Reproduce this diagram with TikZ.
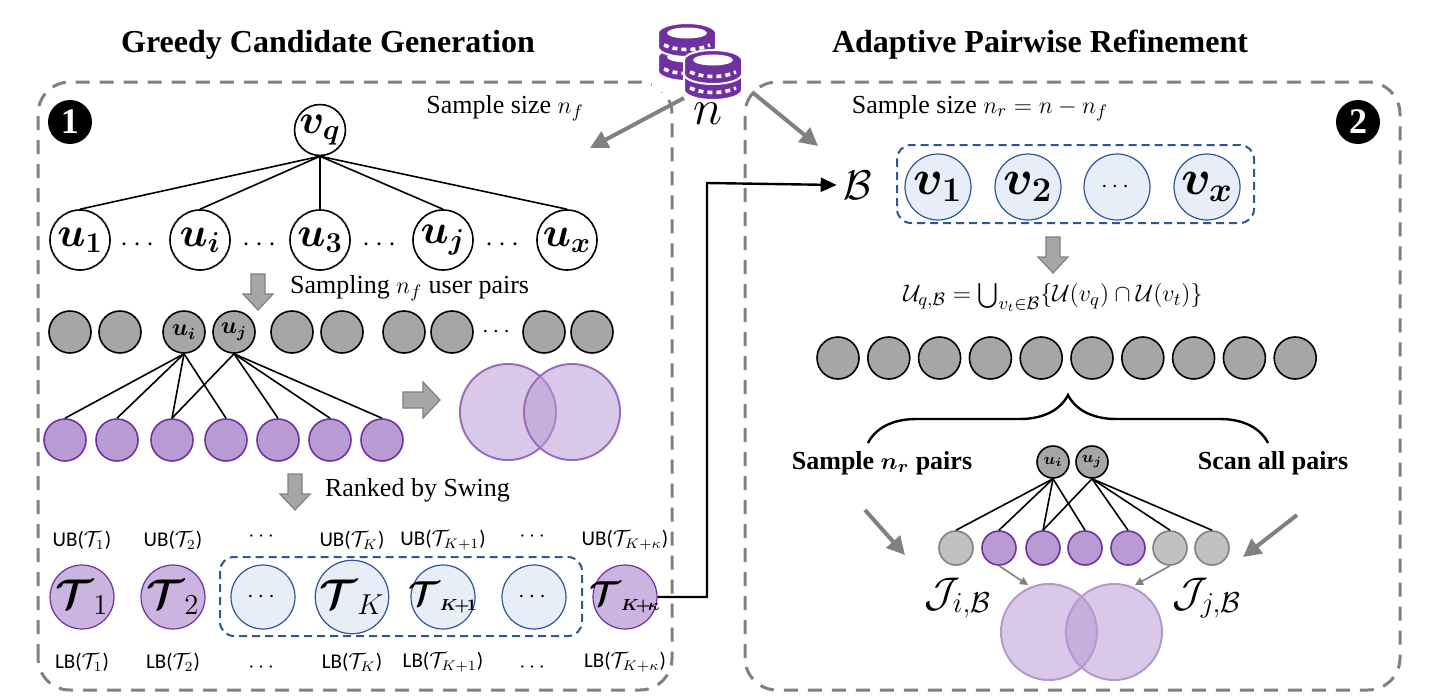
\documentclass[tikz,border=0pt]{standalone}
\usepackage{amsmath,amssymb,bm}
\usepackage{fontspec}
\setmainfont{Liberation Serif}
\newfontfamily\calfont{Carlito}
\usetikzlibrary{arrows.meta,decorations.pathreplacing}
\definecolor{purpD}{RGB}{112,48,160}
\definecolor{purpL}{RGB}{185,155,212}
\definecolor{blueD}{RGB}{47,85,151}
\definecolor{blueL}{RGB}{232,238,248}
\definecolor{grayN}{RGB}{166,166,166}
\definecolor{grayA}{RGB}{128,128,128}
\tikzset{
  box/.style={draw=grayA,line width=1.5pt,dash pattern=on 7pt off 5pt,rounded corners=16pt},
  sel/.style={draw=blueD,line width=1pt,dash pattern=on 4pt off 2.5pt,rounded corners=7pt},
  wnode/.style={circle,draw,line width=0.8pt,fill=white,minimum size=30pt,inner sep=0pt,font=\fontsize{22}{22}\selectfont},
  gnode/.style={circle,draw,line width=0.8pt,fill=grayN,minimum size=21pt,inner sep=0pt,font=\fontsize{12}{12}\selectfont},
  pnode/.style={circle,draw=purpD,line width=0.8pt,fill=purpL,minimum size=21pt,inner sep=0pt},
  tnode/.style={circle,draw=purpD,line width=0.6pt,fill=purpL!75,minimum size=32pt,inner sep=0pt,font=\fontsize{20}{20}\selectfont},
  bnode/.style={circle,draw=blueD,line width=0.6pt,fill=blueL,minimum size=32pt,inner sep=0pt,font=\fontsize{20}{20}\selectfont},
  venn/.style={draw=purpD!70,line width=1pt,fill=purpL,fill opacity=0.55},
  garrow/.style={draw=grayA,line width=2pt,-{Triangle[length=9pt,width=9pt]}},
  blk/.style={fill=grayN,draw=grayA,line width=0.6pt},
  badge/.style={circle,fill=black,text=white,minimum size=22pt,inner sep=0pt,font=\fontsize{18}{18}\bfseries\selectfont},
  lbl/.style={font=\fontsize{13}{15}\selectfont},
  bnd/.style={font=\calfont\fontsize{10.5}{12}\selectfont},
  pics/blkdown/.style={code={\draw[blk] (-7,-18) -- (7,-18) -- (7,2) -- (15,2) -- (0,18) -- (-15,2) -- (-7,2) -- cycle;}},
  pics/coin/.style={code={
    \fill[purpD,draw=white,line width=1pt] (-29,0) -- (-29,14) arc[start angle=180,end angle=360,x radius=29,y radius=-10] -- (29,0) arc[start angle=0,end angle=180,x radius=29,y radius=-10] -- cycle;
    \fill[white] (0,0) ellipse (20 and 5.5);
    \draw[white,line width=1.8pt,dash pattern=on 2.5pt off 2pt] (-23,12) .. controls (-10,18) and (10,18) .. (23,12);}}
}
\begin{document}
\begin{tikzpicture}[x=0.5pt,y=-0.5pt]
\path[use as bounding box] (0,0) rectangle (1440,696);

% Boxes
\draw[box] (38,690) -- (38,82) -- (672,82) -- (672,690) -- cycle;
\draw[box] (745,690) -- (745,82) -- (1400,82) -- (1400,690) -- cycle;

% Titles
\node[font=\fontsize{16}{18}\bfseries\selectfont] (title1) at (328,45) {Greedy Candidate Generation};
\node[font=\fontsize{16}{18}\bfseries\selectfont] (title2) at (1040,45) {Adaptive Pairwise Refinement};

% Coins
\fill[white] (652,20) rectangle (748,92);
\pic at (687,57) {coin};
\pic at (687,33) {coin};
\pic at (713,76) {coin};
\pic at (713,60) {coin};
\node[font=\fontsize{26}{26}\selectfont] (n) at (708,114) {$n$};

\node[badge] (one) at (70,122) {1};
\node[badge] (two) at (1358,122) {2};

% Sample sizes
\node[lbl] (nf) at (505,108) {Sample size $n_f$};
\node[lbl] (nr) at (980,108) {Sample size $n_r = n - n_f$};
\coordinate (cL) at (684,98);
\coordinate (cR) at (752,92);
\draw[garrow] (cL) -- (590,148);
\draw[garrow] (cR) -- (818,146);

% Item and users
\node[wnode,minimum size=25pt] (vq) at (320,130) {$\bm{v_q}$};
\foreach \x/\t/\nm in {80/u_1/u1,200/u_i/ui,320/u_3/u3,443/u_j/uj,567/u_x/ux}{
  \node[wnode] (\nm) at (\x,240) {$\bm{\t}$};
  \draw[line width=0.8pt] (vq.south) -- (\nm.north);
}
\foreach \x in {140,262,382,505}
  \node[font=\fontsize{14}{14}\selectfont] at (\x,245) {$\cdots$};

\pic at (258,292) {blkdown};
\node[lbl,anchor=west] (samp) at (283,288) {Sampling $n_f$ user pairs};

% Sampled users
\foreach \x/\nm in {70/g1,120/g2,292/g5,342/g6,404/g7,452/g8,544/g9,592/g10}
  \node[gnode] (\nm) at (\x,332) {};
\node[gnode] (gi) at (184,332) {$\bm{u_i}$};
\node[gnode] (gj) at (234,332) {$\bm{u_j}$};
\node[font=\fontsize{12}{12}\selectfont] at (498,332) {$\cdots$};

\foreach \x [count=\k] in {65,117,172,226,278,330,382}
  \node[pnode] (p\k) at (\x,440) {};
\foreach \k in {1,2,3,4} \draw[line width=0.8pt] (gi.south) -- (p\k.north);
\foreach \k in {3,5,6,7} \draw[line width=0.8pt] (gj.south) -- (p\k.north);

\draw[blk] (403,392) -- (423,392) -- (423,382) -- (440,400) -- (423,418) -- (423,408) -- (403,408) -- cycle;
\draw[venn] (508,412) circle (48);
\draw[venn] (572,412) circle (48);

\pic at (295,492) {blkdown};
\node[lbl,anchor=west] (rank) at (318,490) {Ranked by Swing};

% Ranked candidates
\draw[sel] (220,557) rectangle (582,636);
\node[tnode] (t1) at (82,597) {$\bm{\mathcal{T}}_1$};
\node[tnode] (t2) at (173,597) {$\bm{\mathcal{T}}_2$};
\node[bnode] (td1) at (263,597) {\fontsize{12}{12}\selectfont$\cdots$};
\node[bnode] (tK) at (352,597) {$\bm{\mathcal{T}}_K$};
\node[bnode,font=\fontsize{16}{16}\selectfont] (tK1) at (443,597) {\makebox[0pt]{$\bm{\mathcal{T}}_{\scriptscriptstyle\bm{K\!+\!1}}$}};
\node[bnode] (td2) at (534,597) {\fontsize{12}{12}\selectfont$\cdots$};
\node[tnode,font=\fontsize{16}{16}\selectfont] (tKk) at (625,597) {\makebox[0pt]{$\bm{\mathcal{T}}_{\scriptscriptstyle\bm{K\!+\!\kappa}}$}};
\foreach \x/\s in {82/1,173/2,352/K,443/{K+1},625/{K+\kappa}}{
  \node[bnd] at (\x,540) {UB($\mathcal{T}_{\s}$)};
  \node[bnd] at (\x,662) {LB($\mathcal{T}_{\s}$)};
}
\foreach \x in {263,534}{
  \node[bnd] at (\x,537) {$\cdots$};
  \node[bnd] at (\x,668) {$\cdots$};
}

% Candidate set
\node[font=\fontsize{22}{22}\selectfont] (B) at (858,185) {$\mathcal{B}$};
\draw[line width=1.2pt,-{Triangle[length=8pt,width=7pt]}] (tKk.east) -| (707,183) -- (B.west);
\draw[sel] (897,145) rectangle (1254,223);
\foreach \x/\t/\nm in {938/v_1/v1,1028/v_2/v2,1207/v_x/vx}
  \node[bnode,minimum size=33pt,font=\fontsize{24}{24}\selectfont] (\nm) at (\x,187) {$\bm{\t}$};
\node[bnode,minimum size=33pt] (vd) at (1117,187) {\fontsize{12}{12}\selectfont$\cdots$};

\pic at (1053,255) {blkdown};
\node[font=\fontsize{12.5}{14}\selectfont] (U) at (1053,297) {$\mathcal{U}_{q,\mathcal{B}} = \bigcup\nolimits_{v_t\in\mathcal{B}}\{\mathcal{U}(v_q)\cap\mathcal{U}(v_t)\}$};

\foreach \k in {0,...,9}
  \node[gnode] (r\k) at (838+\k*50.8,358) {};
\draw[line width=1.2pt,decorate,decoration={brace,amplitude=24pt}] (868,443) -- (1268,443);

\node[font=\fontsize{13}{15}\bfseries\selectfont] (smp) at (882,463) {Sample $\bm{n_r}$ pairs};
\node[font=\fontsize{13}{15}\bfseries\selectfont] (scan) at (1273,463) {Scan all pairs};

\node[gnode,minimum size=16pt,font=\fontsize{8}{8}\selectfont] (ri) at (1053,462) {$\bm{u_i}$};
\node[gnode,minimum size=16pt,font=\fontsize{8}{8}\selectfont] (rj) at (1092,462) {$\bm{u_j}$};
\foreach \x/\s [count=\k] in {956/g,999/p,1043/p,1085/p,1128/p,1170/g,1212/g}{
  \if\s g
    \node[gnode,draw=grayA,fill=grayN!70,minimum size=17pt] (q\k) at (\x,548) {};
  \else
    \node[pnode,minimum size=17pt] (q\k) at (\x,548) {};
  \fi
}
\foreach \k in {1,2,3,4} \draw[line width=0.8pt] (ri.south) -- (q\k.north);
\foreach \k in {3,5,6,7} \draw[line width=0.8pt] (rj.south) -- (q\k.north);

\draw[garrow] (865,510) -- (905,555);
\draw[garrow] (1297,515) -- (1243,557);
\draw[draw=grayA,line width=0.8pt,-{Triangle[length=4pt,width=4pt]}] (q2.south) -- (1028,585);
\draw[draw=grayA,line width=0.8pt,-{Triangle[length=4pt,width=4pt]}] (q6.south) -- (1135,585);

\draw[venn,draw=purpD!50] (1049,632) circle (48);
\draw[venn,draw=purpD!50] (1114,632) circle (48);
\node[font=\fontsize{22}{22}\selectfont] (Ji) at (958,598) {$\mathcal{J}_{i,\mathcal{B}}$};
\node[font=\fontsize{22}{22}\selectfont] (Jj) at (1207,598) {$\mathcal{J}_{j,\mathcal{B}}$};
\end{tikzpicture}
\end{document}
